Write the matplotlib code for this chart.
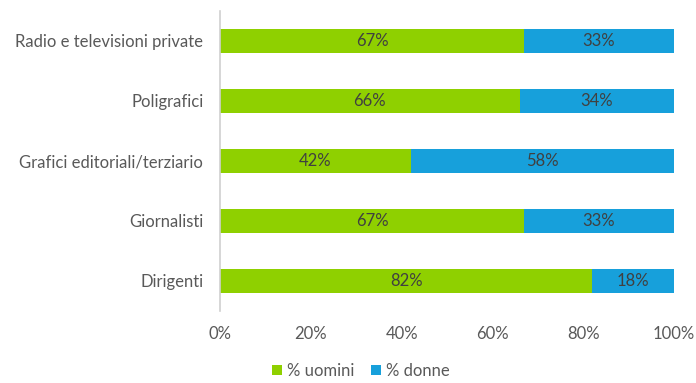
import matplotlib.pyplot as plt

# Quote per categoria (uomini / donne), dal basso verso l'alto
categorie = ["Dirigenti", "Giornalisti", "Grafici editoriali/terziario",
             "Poligrafici", "Radio e televisioni private"]
uomini = [82, 67, 42, 66, 67]
donne = [18, 33, 58, 34, 33]
ticks = [0, 20, 40, 60, 80, 100]

plt.rcParams['font.family'] = ['Lato', 'DejaVu Sans']

VERDE = "#8FD000"
BLU = "#17A0DB"
GRIGIO = "#595959"

fig = plt.figure(figsize=(6.96, 3.83), dpi=100)
ax = fig.add_axes([220 / 696, 1 - 311 / 383, 454 / 696, 300 / 383])

y = range(len(categorie))
b1 = ax.barh(y, uomini, height=0.4, color=VERDE, label="% uomini")
b2 = ax.barh(y, donne, left=uomini, height=0.4, color=BLU, label="% donne")

for bars, vals in ((b1, uomini), (b2, donne)):
    ax.bar_label(bars, labels=[f"{v}%" for v in vals], label_type="center",
                 color="#404040", fontsize=12)

ax.set_xlim(0, 100)
ax.set_ylim(-0.5, len(categorie) - 0.5)
ax.set_xticks(ticks)
ax.set_xticklabels([f"{t}%" for t in ticks])
ax.set_yticks(list(y))
ax.set_yticklabels(categorie)
ax.tick_params(axis="both", length=0, colors=GRIGIO, labelsize=12)
ax.tick_params(axis="x", pad=11)
ax.tick_params(axis="y", pad=12)

for s in ("top", "right", "bottom"):
    ax.spines[s].set_visible(False)
ax.spines["left"].set_color("#D0D0D0")
ax.spines["left"].set_linewidth(1.2)

fig.legend(handles=[b1, b2], loc="center", bbox_to_anchor=(361 / 696, 1 - 371 / 383),
           ncol=2, frameon=False, fontsize=12, labelcolor=GRIGIO,
           handlelength=0.6, handleheight=0.6, handletextpad=0.3, columnspacing=1.0)

fig.savefig("out.png", dpi=100)
